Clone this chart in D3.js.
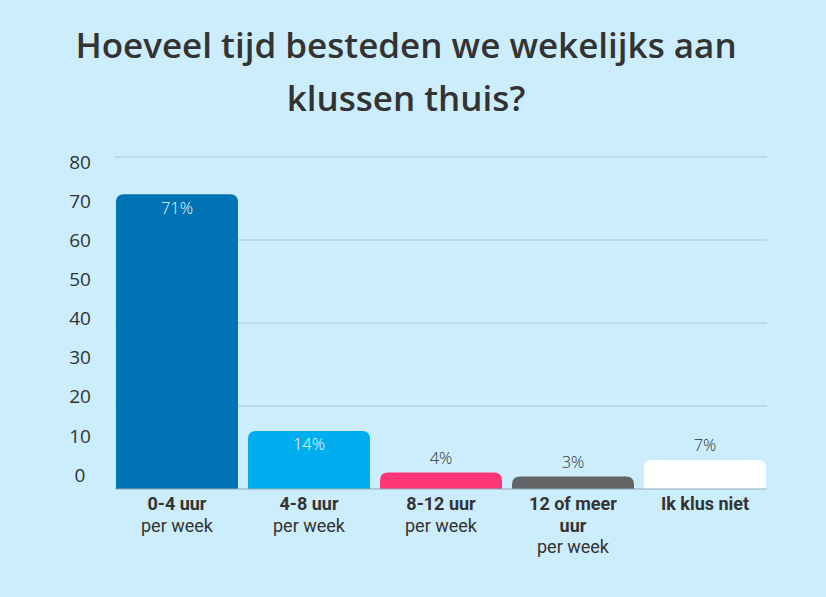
<!DOCTYPE html>
<html>
<head>
    <meta charset="utf-8">
    <style>
        body { margin: 0; background: #ccedfc; }
        svg { display: block; font-family: "Open Sans", sans-serif; }
    </style>
    <script src="https://d3js.org/d3.v7.min.js"></script>
</head>
<body>
    <script>
        // data
        const categories = ["0-4 uur", "4-8 uur", "8-12 uur", "12 of meer uur", "Ik klus niet"];
        const catLines = [["0-4 uur"], ["4-8 uur"], ["8-12 uur"], ["12 of meer", "uur"], ["Ik klus niet"]];
        const subLabels = ["per week", "per week", "per week", "per week", ""];
        const values = [71, 14, 4, 3, 7];
        const colors = ["#0073b5", "#00aeef", "#ff3675", "#636466", "#ffffff"];
        const yTicks = [0, 10, 20, 30, 40, 50, 60, 70, 80];
        const gridTicks = [20, 40, 60, 80];
        const title = ["Hoeveel tijd besteden we wekelijks aan", "klussen thuis?"];

        const width = 826, height = 597;

        const svg = d3.select("body").append("svg")
            .attr("width", width)
            .attr("height", height);

        svg.append("rect").attr("width", width).attr("height", height).attr("fill", "#ccedfc");

        svg.selectAll(".title")
            .data(title)
            .enter()
            .append("text")
            .attr("x", 406)
            .attr("y", (d, i) => 58 + i * 53)
            .attr("text-anchor", "middle")
            .attr("font-size", 35)
            .attr("font-weight", 600)
            .attr("fill", "#333333")
            .text(d => d);

        const x = d3.scaleBand()
            .domain(categories)
            .range([116, 766])
            .paddingInner(0.076)
            .paddingOuter(0);

        const y = d3.scaleLinear().domain([0, 80]).range([489, 157]);
        // tick labels in the original sit on their own, slightly tighter spacing
        const yLabel = d3.scaleLinear().domain([0, 80]).range([475, 162]);

        svg.selectAll(".grid")
            .data(gridTicks)
            .enter()
            .append("line")
            .attr("x1", 115).attr("x2", 767)
            .attr("y1", d => y(d)).attr("y2", d => y(d))
            .attr("stroke", "#a9c6d3")
            .attr("stroke-width", 1);

        svg.selectAll(".ylab")
            .data(yTicks)
            .enter()
            .append("text")
            .attr("x", 80)
            .attr("y", d => yLabel(d))
            .attr("dy", "0.35em")
            .attr("text-anchor", "middle")
            .attr("font-size", 19)
            .attr("fill", "#333333")
            .text(d => d);

        const r = 8;
        function topRounded(x0, y0, w, h) {
            const rr = Math.min(r, h, w / 2);
            return `M${x0},${y0 + h}V${y0 + rr}Q${x0},${y0} ${x0 + rr},${y0}H${x0 + w - rr}Q${x0 + w},${y0} ${x0 + w},${y0 + rr}V${y0 + h}Z`;
        }

        svg.selectAll(".bar")
            .data(values)
            .enter()
            .append("path")
            .attr("d", (d, i) => topRounded(x(categories[i]), y(d), x.bandwidth(), y(0) - y(d)))
            .attr("fill", (d, i) => colors[i]);

        svg.append("line")
            .attr("x1", 115).attr("x2", 767)
            .attr("y1", y(0)).attr("y2", y(0))
            .attr("stroke", "#8fa9b5")
            .attr("stroke-width", 1);

        svg.selectAll(".val")
            .data(values)
            .enter()
            .append("text")
            .attr("x", (d, i) => x(categories[i]) + x.bandwidth() / 2)
            .attr("y", d => d > 10 ? y(d) + 13.5 : y(d) - 14.5)
            .attr("dy", "0.35em")
            .attr("text-anchor", "middle")
            .attr("font-size", 16.5)
            .attr("font-weight", 300)
            .attr("fill", d => d > 10 ? "#f2f7fa" : "#333333")
            .text(d => d + "%");

        // category labels: one text per line so the lines don't collide
        categories.forEach((d, i) => {
            const cx = x(d) + x.bandwidth() / 2;
            const lines = catLines[i].map(t => ({ t: t, w: 700 }));
            if (subLabels[i]) lines.push({ t: subLabels[i], w: 400 });
            svg.selectAll(null)
                .data(lines)
                .enter()
                .append("text")
                .attr("x", cx)
                .attr("y", (l, j) => 510 + j * 21.5)
                .attr("text-anchor", "middle")
                .style("font-family", "Roboto, sans-serif")
                .attr("font-size", 18)
                .attr("font-weight", l => l.w)
                .attr("fill", "#333333")
                .text(l => l.t);
        });
    </script>
</body>
</html>
